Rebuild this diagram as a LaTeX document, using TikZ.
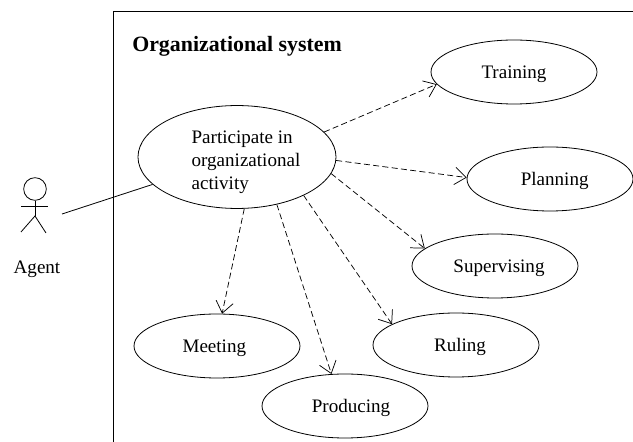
\documentclass[tikz,border=0pt]{standalone}
\usepackage{fontspec}
\setmainfont{Liberation Serif}
\usetikzlibrary{arrows.meta,shapes.geometric}

\begin{document}
\begin{tikzpicture}[
  x=.75pt,y=-.75pt,
  font=\fontsize{14.3}{17.25}\selectfont,
  uc/.style={ellipse,draw,line width=.6pt,minimum width=124.5pt,minimum height=48pt,inner sep=0pt,text height=11pt,text depth=.5pt},
  bigUc/.style={ellipse,draw,line width=.6pt,minimum width=148.5pt,minimum height=75pt,inner sep=0pt,align=left},
  dep/.style={line width=.55pt,dash pattern=on 4.5pt off 2.5pt,-{Straight Barb[length=8.5pt,width=13pt,line width=.55pt]}},
  assoc/.style={line width=.6pt},
  actorLine/.style={line width=.6pt}]

  \useasboundingbox (0,0) rectangle (633,442);

  \draw[line width=.6pt] (633,11) -- (113,11) -- (113,442);
  \node[anchor=west,inner sep=0pt,font=\fontsize{16.4}{20}\selectfont\bfseries] (title) at (132,46) {Organizational system};

  \node[bigUc] (part) at (237,157) {\rule{0pt}{17pt}\hspace*{13.5pt}Participate in\\\hspace*{13.5pt}organizational\\\hspace*{13.5pt}activity};

  \node[uc] (train) at (514,72) {\hspace*{0pt}Training};
  \node[uc] (plan) at (550,179) {\hspace*{7pt}Planning};
  \node[uc] (superv) at (495,266) {\hspace*{6pt}Supervising};
  \node[uc] (meet) at (217,346) {\hspace*{-4pt}Meeting};
  \node[uc] (rule) at (456,345) {\hspace*{6pt}Ruling};
  \node[uc] (prod) at (345,406) {\hspace*{9pt}Producing};

  \draw[dep] (part.16) -- (train.189);
  \draw[dep] (part.-2) -- (plan.179);
  \draw[dep] (part.-10) -- (superv.166);
  \draw[dep] (part.-30) -- (rule.162);
  \draw[dep] (part.-50) -- (prod.113);
  \draw[dep] (part.-82) -- (meet.81);

  \node[circle,draw,actorLine,minimum size=17pt,inner sep=0pt] (head) at (35,189) {};
  \coordinate (hip) at (35,216);
  \coordinate (armL) at (21,206);
  \coordinate (armR) at (48,206);
  \coordinate (footL) at (21,232);
  \coordinate (footR) at (46,233);
  \draw[actorLine] (head) -- (hip);
  \draw[actorLine] (armL) -- (armR);
  \draw[actorLine] (footL) -- (hip) -- (footR);
  \node (agent) at (37,269) {Agent};

  \coordinate (actorEnd) at (62,214);
  \draw[assoc] (actorEnd) -- (part.198);
\end{tikzpicture}
\end{document}
